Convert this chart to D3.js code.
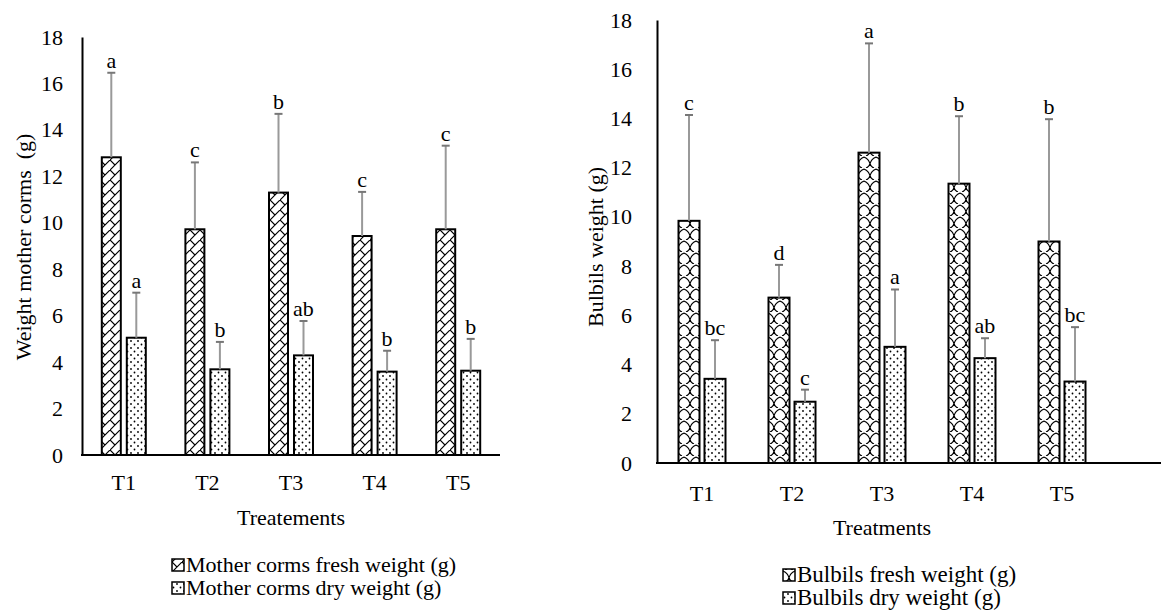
<!DOCTYPE html>
<html>
<head>
<meta charset="utf-8">
<script src="https://cdn.jsdelivr.net/npm/d3@7"></script>
<style>
  body { margin: 0; background: #fff; }
  svg text { font-family: "Liberation Serif", "Times New Roman", serif; fill: #000; }
</style>
</head>
<body>
<svg id="chart" width="1161" height="610"></svg>
<script>
const treatments = ["T1", "T2", "T3", "T4", "T5"];
const yTicks = [0, 2, 4, 6, 8, 10, 12, 14, 16, 18];

// left panel - mother corms
const cormFresh = [12.82, 9.72, 11.3, 9.43, 9.72];
const cormFreshErr = [3.64, 2.88, 3.39, 1.9, 3.6];
const cormFreshLetters = ["a", "c", "b", "c", "c"];
const cormDry = [5.05, 3.69, 4.29, 3.59, 3.63];
const cormDryErr = [1.94, 1.18, 1.48, 0.9, 1.37];
const cormDryLetters = ["a", "b", "ab", "b", "b"];

// right panel - bulbils
const bulbFresh = [9.84, 6.72, 12.61, 11.35, 9.0];
const bulbFreshErr = [4.3, 1.33, 4.44, 2.74, 4.97];
const bulbFreshLetters = ["c", "d", "a", "b", "b"];
const bulbDry = [3.42, 2.49, 4.72, 4.26, 3.31];
const bulbDryErr = [1.57, 0.49, 2.33, 0.81, 2.21];
const bulbDryLetters = ["bc", "c", "a", "ab", "bc"];

const svg = d3.select("#chart");
const defs = svg.append("defs");

// hatch patterns
const zig = defs.append("pattern").attr("id", "zig")
    .attr("patternUnits", "userSpaceOnUse").attr("width", 10).attr("height", 10);
zig.append("rect").attr("width", 10).attr("height", 10).attr("fill", "#fff");
zig.append("path").attr("d", "M0,10 L10,0 M0,0 L5,5")
    .attr("stroke", "#000").attr("stroke-width", 1.2).attr("fill", "none");

const wave = defs.append("pattern").attr("id", "wave")
    .attr("patternUnits", "userSpaceOnUse").attr("width", 12).attr("height", 12);
wave.append("rect").attr("width", 12).attr("height", 12).attr("fill", "#fff");
wave.append("path").attr("d", "M0,1 Q5,3 6,8 Q7,3 12,1 M6,8 Q5,11 2,12 M6,8 Q7,11 10,12")
    .attr("stroke", "#000").attr("stroke-width", 1.2).attr("fill", "none");

const dots = defs.append("pattern").attr("id", "dots")
    .attr("patternUnits", "userSpaceOnUse").attr("width", 7).attr("height", 7);
dots.append("rect").attr("width", 7).attr("height", 7).attr("fill", "#fff");
dots.append("circle").attr("cx", 1.5).attr("cy", 1.5).attr("r", 0.9).attr("fill", "#000");
dots.append("circle").attr("cx", 5).attr("cy", 5).attr("r", 0.9).attr("fill", "#000");

function drawPanel(opt) {
    const x = d3.scaleBand().domain(treatments).range([opt.x0, opt.x1]);
    const y = d3.scaleLinear().domain([0, 18]).range([opt.yBase, opt.yTop]);
    const g = svg.append("g");

    const series = [
        {vals: opt.fresh, err: opt.freshErr, letters: opt.freshLetters, fill: opt.freshFill, off: -opt.off},
        {vals: opt.dry, err: opt.dryErr, letters: opt.dryLetters, fill: "url(#dots)", off: opt.off}
    ];

    series.forEach(s => {
        const cx = (d, i) => x(treatments[i]) + x.bandwidth() / 2 + s.off;
        g.selectAll(null).data(s.vals).enter().append("rect")
            .attr("x", (d, i) => cx(d, i) - opt.barW / 2)
            .attr("y", d => y(d))
            .attr("width", opt.barW)
            .attr("height", d => y(0) - y(d))
            .attr("fill", s.fill)
            .attr("stroke", "#000")
            .attr("stroke-width", 2);

        // error bars (upper only)
        g.selectAll(null).data(s.vals).enter().append("line")
            .attr("x1", cx).attr("x2", cx)
            .attr("y1", d => y(d))
            .attr("y2", (d, i) => y(d + s.err[i]))
            .attr("stroke", "#999").attr("stroke-width", 2);
        g.selectAll(null).data(s.vals).enter().append("line")
            .attr("x1", (d, i) => cx(d, i) - 4).attr("x2", (d, i) => cx(d, i) + 4)
            .attr("y1", (d, i) => y(d + s.err[i]))
            .attr("y2", (d, i) => y(d + s.err[i]))
            .attr("stroke", "#777").attr("stroke-width", 2);

        g.selectAll(null).data(s.vals).enter().append("text")
            .attr("x", cx)
            .attr("y", (d, i) => y(d + s.err[i]) - 5)
            .attr("text-anchor", "middle")
            .style("font-size", "22px")
            .text((d, i) => s.letters[i]);
    });

    // y axis
    const yAxis = g.append("g")
        .attr("transform", "translate(" + opt.x0 + ",0)")
        .call(d3.axisLeft(y).tickValues(yTicks).tickSize(0).tickPadding(opt.yPad));
    yAxis.select(".domain").attr("stroke", "#000").attr("stroke-width", 2);
    yAxis.selectAll("text").style("font-size", "22px");

    // x axis
    const xAxis = g.append("g")
        .attr("transform", "translate(0," + opt.yBase + ")")
        .call(d3.axisBottom(x).tickSize(0).tickPadding(opt.xPad));
    xAxis.select(".domain").remove();
    xAxis.selectAll("text").style("font-size", "22px");
    g.append("line")
        .attr("x1", opt.x0 - 1).attr("x2", opt.axisEnd)
        .attr("y1", opt.yBase).attr("y2", opt.yBase)
        .attr("stroke", "#000").attr("stroke-width", 2);

    g.append("text")
        .attr("transform", "translate(" + opt.yTitleX + "," + opt.yTitleY + ") rotate(-90)")
        .attr("text-anchor", "middle")
        .style("font-size", "22px")
        .style("white-space", "pre")
        .text(opt.yTitle);

    g.append("text")
        .attr("x", (opt.x0 + opt.x1) / 2)
        .attr("y", opt.xTitleY)
        .attr("text-anchor", "middle")
        .style("font-size", "22px")
        .text(opt.xTitle);

    // legend
    const leg = g.append("g").attr("transform", "translate(" + opt.legX + "," + opt.legY + ")");
    [[opt.freshFill, opt.freshLabel], ["url(#dots)", opt.dryLabel]].forEach((item, i) => {
        leg.append("rect")
            .attr("x", 0).attr("y", i * opt.legGap - 13)
            .attr("width", 12).attr("height", 12)
            .attr("fill", item[0]).attr("stroke", "#000").attr("stroke-width", 1.5);
        leg.append("text")
            .attr("x", 14).attr("y", i * opt.legGap)
            .style("font-size", opt.legFont)
            .text(item[1]);
    });
}

drawPanel({
    x0: 82, x1: 500, axisEnd: 500, yBase: 455, yTop: 37,
    barW: 19, off: 12.5, xPad: 19, yPad: 19,
    fresh: cormFresh, freshErr: cormFreshErr, freshLetters: cormFreshLetters,
    dry: cormDry, dryErr: cormDryErr, dryLetters: cormDryLetters,
    freshFill: "url(#zig)",
    yTitle: "Weight mother corms  (g)", yTitleX: 31, yTitleY: 247,
    xTitle: "Treatements", xTitleY: 525,
    legX: 172, legY: 572, legGap: 23, legFont: "22px",
    freshLabel: "Mother corms fresh weight (g)", dryLabel: "Mother corms dry weight (g)"
});

drawPanel({
    x0: 657, x1: 1107, axisEnd: 1161, yBase: 463, yTop: 20,
    barW: 21, off: 13, xPad: 22, yPad: 25,
    fresh: bulbFresh, freshErr: bulbFreshErr, freshLetters: bulbFreshLetters,
    dry: bulbDry, dryErr: bulbDryErr, dryLetters: bulbDryLetters,
    freshFill: "url(#wave)",
    yTitle: "Bulbils weight (g)", yTitleX: 603, yTitleY: 247,
    xTitle: "Treatments", xTitleY: 535,
    legX: 783, legY: 582, legGap: 23, legFont: "23px",
    freshLabel: "Bulbils fresh weight (g)", dryLabel: "Bulbils dry weight (g)"
});
</script>
</body>
</html>
